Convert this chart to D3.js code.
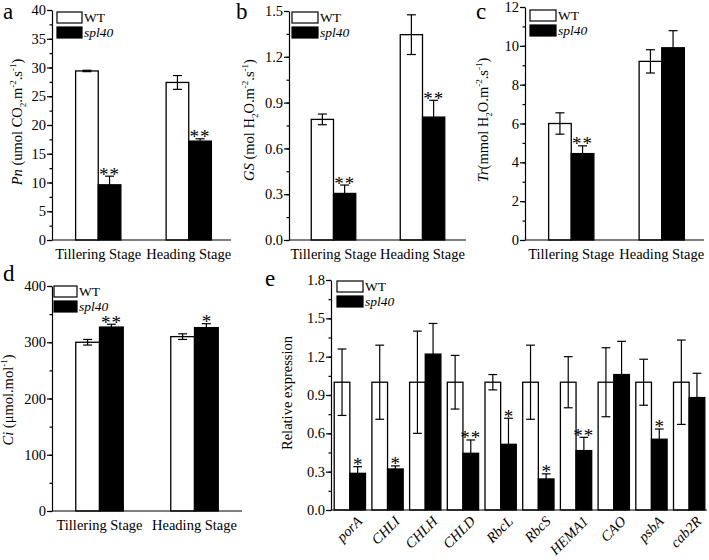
<!DOCTYPE html>
<html>
<head>
<meta charset="utf-8">
<script src="https://cdn.jsdelivr.net/npm/d3@7"></script>
<style>
body { margin: 0; background: #fff; }
</style>
</head>
<body>
<svg id="svg_canvas" width="709" height="560"></svg>
<script>
// data
var stages = ["Tillering Stage", "Heading Stage"];
var seriesNames = ["WT", "spl40"];

var pnWT = [29.4, 27.4], pnWTErr = [0.12, 1.2];
var pnMut = [9.6, 17.2], pnMutErr = [1.5, 0.4];
var pnStars = ["**", "**"];

var gsWT = [0.79, 1.345], gsWTErr = [0.035, 0.13];
var gsMut = [0.305, 0.805], gsMutErr = [0.055, 0.11];
var gsStars = ["**", "**"];

var trWT = [6.0, 9.2], trWTErr = [0.55, 0.6];
var trMut = [4.45, 9.9], trMutErr = [0.4, 0.88];
var trStars = ["**", ""];

var ciWT = [300, 310], ciWTErr = [5, 5];
var ciMut = [327, 326], ciMutErr = [5, 7];
var ciStars = ["**", "*"];

var genes = ["porA", "CHLI", "CHLH", "CHLD", "RbcL", "RbcS", "HEMA1", "CAO", "psbA", "cab2R"];
var geneWT = [1, 1, 1, 1, 1, 1, 1, 1, 1, 1];
var geneWTErr = [0.26, 0.29, 0.40, 0.21, 0.06, 0.29, 0.20, 0.27, 0.18, 0.33];
var geneMut = [0.287, 0.321, 1.22, 0.444, 0.514, 0.243, 0.465, 1.06, 0.554, 0.88];
var geneMutErr = [0.052, 0.024, 0.24, 0.104, 0.204, 0.04, 0.104, 0.26, 0.08, 0.19];
var geneStars = ["*", "*", "", "**", "*", "*", "**", "", "*", ""];

var FONT = "'Liberation Serif', 'DejaVu Serif', serif";
var svg = d3.select("#svg_canvas").style("font-family", FONT);

// writes rich text parts: [string, kind] kind = "i", "sub", "sup" or ""
var richText = function(t, parts){
	var shift = 0;
	parts.forEach(function(p){
		var ts = t.append("tspan").text(p[0]);
		var target = 0;
		if(p[1] === "sub") target = 4;
		if(p[1] === "sup") target = -6;
		ts.attr("dy", target - shift);
		shift = target;
		if(p[1] === "i") ts.style("font-style", "italic");
		if(p[1] === "sub" || p[1] === "sup") ts.style("font-size", "9px");
	});
};

var drawPanel = function(cfg){
	var g = svg.append("g");
	var x = d3.scaleBand().domain(cfg.cats).range([cfg.left, cfg.right])
		.paddingInner(cfg.padIn).paddingOuter(cfg.padOut);
	var xs = d3.scaleBand().domain(seriesNames).range([0, x.bandwidth()]);
	var y = d3.scaleLinear().domain([0, cfg.max]).range([cfg.bottom, cfg.top]);

	// minor ticks
	g.append("g").attr("transform", "translate(" + cfg.axisX + ",0)")
		.call(d3.axisLeft(y).tickValues(d3.range(0, cfg.max + 1e-9, cfg.step / 2)).tickSize(2.5).tickFormat("").tickSizeOuter(0))
		.call(function(a){ a.select(".domain").remove(); });
	var ya = g.append("g").attr("transform", "translate(" + cfg.axisX + ",0)")
		.call(d3.axisLeft(y).tickValues(d3.range(0, cfg.max + 1e-9, cfg.step)).tickSize(5).tickSizeOuter(0).tickFormat(d3.format(cfg.fmt)));
	ya.attr("font-family", null);
	ya.selectAll("text").style("font-size", "14.5px").style("font-family", FONT).attr("x", -6);
	g.selectAll(".domain, .tick line").attr("stroke", "#000").attr("stroke-width", 1.2);

	// bottom axis line
	g.append("line").attr("x1", cfg.axisX).attr("x2", cfg.axisEnd)
		.attr("y1", cfg.bottom).attr("y2", cfg.bottom)
		.attr("stroke", "#000").attr("stroke-width", 1.2);

	var rows = cfg.cats.map(function(c, i){
		return [
			{cat: c, s: "WT", v: cfg.wt[i], e: cfg.wtErr[i], star: ""},
			{cat: c, s: "spl40", v: cfg.mut[i], e: cfg.mutErr[i], star: cfg.stars[i]}
		];
	});
	var flat = [].concat.apply([], rows);

	// error bars first (lower half hidden by black bars)
	flat.forEach(function(d){
		var cx = x(d.cat) + xs(d.s) + xs.bandwidth() / 2;
		var cw = Math.min(4.5, xs.bandwidth() * 0.28);
		var eg = g.append("g").attr("stroke", "#000").attr("stroke-width", 1.2);
		eg.append("line").attr("x1", cx).attr("x2", cx).attr("y1", y(d.v + d.e)).attr("y2", y(d.v - d.e));
		eg.append("line").attr("x1", cx - cw).attr("x2", cx + cw).attr("y1", y(d.v + d.e)).attr("y2", y(d.v + d.e));
		eg.append("line").attr("x1", cx - cw).attr("x2", cx + cw).attr("y1", y(d.v - d.e)).attr("y2", y(d.v - d.e));
	});
	g.selectAll("rect.bar").data(flat).enter().append("rect")
		.attr("x", function(d){ return x(d.cat) + xs(d.s); })
		.attr("y", function(d){ return y(d.v); })
		.attr("width", xs.bandwidth())
		.attr("height", function(d){ return cfg.bottom - y(d.v); })
		.attr("fill", function(d){ return d.s === "WT" ? "#fff" : "#000"; })
		.attr("fill-opacity", function(d){ return d.s === "WT" ? 0 : 1; })
		.attr("stroke", "#000").attr("stroke-width", 1.3);
	// stars
	flat.forEach(function(d){
		if(!d.star) return;
		var cx = x(d.cat) + xs(d.s) + xs.bandwidth() / 2;
		g.append("text").attr("x", cx).attr("y", y(d.v + d.e) + 4.5)
			.attr("text-anchor", "middle").style("font-size", "19px")
			.style("letter-spacing", d.star.length > 1 ? "1px" : "0px")
			.text(d.star);
	});

	// category labels
	if(cfg.rotate){
		cfg.cats.forEach(function(c){
			var cx = x(c) + x.bandwidth() / 2 + 6;
			g.append("text").attr("transform", "translate(" + cx + "," + (cfg.bottom + 5) + ") rotate(-45)")
				.attr("text-anchor", "end").attr("dy", "0.7em")
				.style("font-size", "14.5px").style("font-style", "italic").text(c);
		});
	} else {
		cfg.cats.forEach(function(c){
			g.append("text").attr("x", x(c) + x.bandwidth() / 2).attr("y", cfg.bottom + 19)
				.attr("text-anchor", "middle").style("font-size", "14.5px").text(c);
		});
	}

	// y title
	var t = g.append("text")
		.attr("transform", "translate(" + cfg.titleX + "," + cfg.titleY + ") rotate(-90)")
		.attr("text-anchor", "middle").style("font-size", "14.5px");
	richText(t, cfg.title);

	// legend
	var lg = g.append("g").attr("transform", "translate(" + cfg.legX + "," + cfg.legY + ")");
	lg.append("rect").attr("x", 0).attr("y", 0).attr("width", cfg.legW).attr("height", 11)
		.attr("fill", "#fff").attr("stroke", "#000").attr("stroke-width", 1.2);
	lg.append("rect").attr("x", 0).attr("y", 15).attr("width", cfg.legW).attr("height", 11)
		.attr("fill", "#000").attr("stroke", "#000").attr("stroke-width", 1.2);
	lg.append("text").attr("x", cfg.legW + 2).attr("y", 10).style("font-size", "13.5px").text(seriesNames[0]);
	lg.append("text").attr("x", cfg.legW + 2).attr("y", 25).style("font-size", "13.5px").style("font-style", "italic").text(seriesNames[1]);

	// panel letter
	svg.append("text").attr("x", cfg.letterX).attr("y", cfg.letterY)
		.style("font-size", "23px").text(cfg.letter);
};

drawPanel({letter: "a", letterX: 3, letterY: 19, cats: stages, wt: pnWT, wtErr: pnWTErr, mut: pnMut, mutErr: pnMutErr, stars: pnStars,
	left: 53, right: 234, padIn: 0.5, padOut: 0.25, axisX: 52, axisEnd: 231, top: 10, bottom: 240, max: 40, step: 5, fmt: "d",
	titleX: 22, titleY: 122, legX: 57, legY: 12, legW: 25,
	title: [["Pn", "i"], [" (umol CO", ""], ["2", "sub"], [".m", ""], ["-2", "sup"], [".s", ""], ["-1", "sup"], [")", ""]]});

drawPanel({letter: "b", letterX: 236, letterY: 19, cats: stages, wt: gsWT, wtErr: gsWTErr, mut: gsMut, mutErr: gsMutErr, stars: gsStars,
	left: 289, right: 467, padIn: 0.5, padOut: 0.25, axisX: 289, axisEnd: 466, top: 11, bottom: 240, max: 1.5, step: 0.3, fmt: ".1f",
	titleX: 254, titleY: 120, legX: 292, legY: 12, legW: 26,
	title: [["GS", "i"], [" (mol H", ""], ["2", "sub"], ["O.m", ""], ["-2", "sup"], [".s", ""], ["-1", "sup"], [")", ""]]});

drawPanel({letter: "c", letterX: 476, letterY: 19, cats: stages, wt: trWT, wtErr: trWTErr, mut: trMut, mutErr: trMutErr, stars: trStars,
	left: 526, right: 707, padIn: 0.5, padOut: 0.25, axisX: 525, axisEnd: 704, top: 7, bottom: 240, max: 12, step: 2, fmt: "d",
	titleX: 488, titleY: 120, legX: 530, legY: 10, legW: 26,
	title: [["Tr", "i"], ["(mmol H", ""], ["2", "sub"], ["O.m", ""], ["-2", "sup"], [".s", ""], ["-1", "sup"], [")", ""]]});

drawPanel({letter: "d", letterX: 3, letterY: 281, cats: stages, wt: ciWT, wtErr: ciWTErr, mut: ciMut, mutErr: ciMutErr, stars: ciStars,
	left: 52, right: 242, padIn: 0.5, padOut: 0.25, axisX: 52, axisEnd: 242, top: 286, bottom: 511, max: 400, step: 100, fmt: "d",
	titleX: 13, titleY: 400, legX: 54, legY: 286, legW: 23,
	title: [["Ci", "i"], [" (\u03bcmol.mol", ""], ["-1", "sup"], [")", ""]]});

drawPanel({letter: "e", letterX: 265, letterY: 286, cats: genes, wt: geneWT, wtErr: geneWTErr, mut: geneMut, mutErr: geneMutErr, stars: geneStars,
	left: 331, right: 708, padIn: 0.17, padOut: 0.085, axisX: 331, axisEnd: 707, top: 280, bottom: 510, max: 1.8, step: 0.3, fmt: ".1f",
	titleX: 292, titleY: 393, legX: 337, legY: 281, legW: 26, rotate: true,
	title: [["Relative expression", ""]]});
</script>
</body>
</html>
